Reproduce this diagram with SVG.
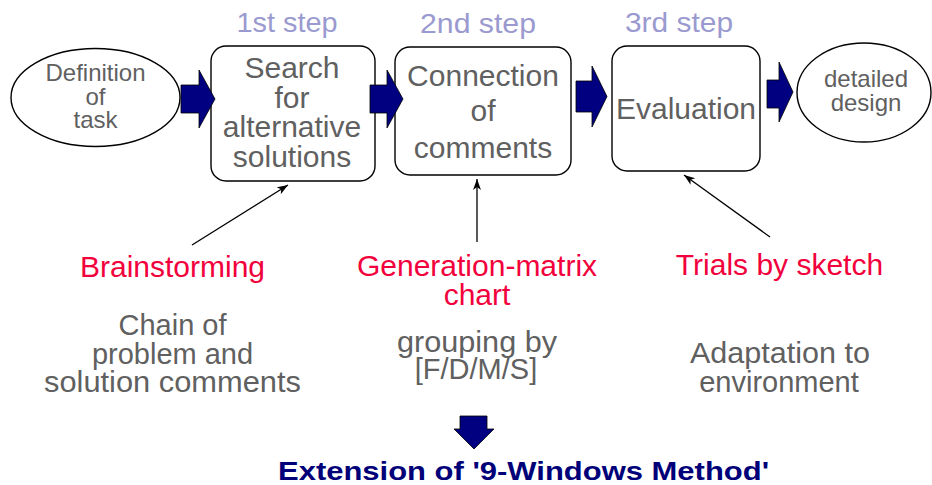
<svg xmlns="http://www.w3.org/2000/svg" width="932" height="485" viewBox="0 0 932 485">
<style>
text{font-family:"Liberation Sans",Arial,sans-serif;text-anchor:middle}
.node{fill:#fff;stroke:#000;stroke-width:1.4}
.nt{fill:#606060;font-size:30px}
.et{fill:#606060;font-size:24px}
.step{fill:#9a9ad0;font-size:28px}
.red{fill:#f2003c;font-size:30px}
.gray{fill:#606060;font-size:29px}
.blk{fill:#000080;stroke:#000;stroke-width:0.8}
.con{stroke:#000;stroke-width:1.3;fill:none;marker-end:url(#ah)}
</style>
<defs>
<marker id="ah" markerUnits="userSpaceOnUse" markerWidth="12" markerHeight="9" refX="11" refY="4" orient="auto">
<path d="M0,0 L11,4 L0,8 L3,4 z" fill="#000"/>
</marker>
</defs>
<rect width="932" height="485" fill="#fff"/>

<g id="step-labels">
<text class="step" x="287" y="32" textLength="101" lengthAdjust="spacingAndGlyphs">1st step</text>
<text class="step" x="478" y="33" textLength="116" lengthAdjust="spacingAndGlyphs">2nd step</text>
<text class="step" x="679" y="32" textLength="108" lengthAdjust="spacingAndGlyphs">3rd step</text>
</g>

<g id="definition">
<ellipse class="node" cx="95.5" cy="97.5" rx="84.5" ry="49"/>
<text class="et" x="95.5" y="81">Definition</text>
<text class="et" x="95.5" y="104.5">of</text>
<text class="et" x="95.5" y="128">task</text>
</g>

<g id="search">
<rect class="node" x="211" y="46" width="164" height="135" rx="15"/>
<text class="nt" x="292" y="78">Search</text>
<text class="nt" x="292" y="107.5">for</text>
<text class="nt" x="292" y="137">alternative</text>
<text class="nt" x="292" y="166.5">solutions</text>
</g>

<g id="connection">
<rect class="node" x="395" y="47" width="176" height="128" rx="15"/>
<text class="nt" x="483" y="86">Connection</text>
<text class="nt" x="483" y="121">of</text>
<text class="nt" x="483" y="158">comments</text>
</g>

<g id="evaluation">
<rect class="node" x="612" y="46" width="148" height="125" rx="15"/>
<text class="nt" x="686" y="119">Evaluation</text>
</g>

<g id="detailed">
<ellipse class="node" cx="864" cy="92.5" rx="67" ry="49.5"/>
<text class="et" x="866" y="87">detailed</text>
<text class="et" x="866" y="110.5">design</text>
</g>

<g id="block-arrows">
<polygon class="blk" points="181,85 199,85 199,70 215,99 199,128 199,113 181,113"/>
<polygon class="blk" points="370,85 387,85 387,70 403,99 387,128 387,113 370,113"/>
<polygon class="blk" points="576,81 592,81 592,66 607,96.5 592,127 592,112 576,112"/>
<polygon class="blk" points="767,80 779,80 779,62 793,92 779,122 779,108 767,108"/>
<polygon class="blk" points="460,416 487,416 487,429 494,429 474,449 454,429 460,429"/>
</g>

<g id="connectors">
<line class="con" x1="192" y1="245" x2="288" y2="185"/>
<line class="con" x1="477" y1="242" x2="477" y2="179"/>
<line class="con" x1="770" y1="237" x2="684" y2="175"/>
</g>

<g id="brainstorming">
<text class="red" x="172.5" y="277">Brainstorming</text>
<text class="gray" x="172.5" y="335">Chain of</text>
<text class="gray" x="172.5" y="363.5">problem and</text>
<text class="gray" x="172.5" y="392" textLength="257" lengthAdjust="spacingAndGlyphs">solution comments</text>
</g>

<g id="generation-matrix">
<text class="red" x="477" y="276">Generation-matrix</text>
<text class="red" x="477" y="305">chart</text>
<text class="gray" x="477" y="352" textLength="160" lengthAdjust="spacingAndGlyphs">grouping by</text>
<text class="gray" x="476" y="379">[F/D/M/S]</text>
</g>

<g id="trials">
<text class="red" x="779.5" y="275">Trials by sketch</text>
<text class="gray" x="780" y="363" textLength="180" lengthAdjust="spacingAndGlyphs">Adaptation to</text>
<text class="gray" x="779" y="392">environment</text>
</g>

<g id="extension">
<text x="523.5" y="480" font-size="26" font-weight="bold" fill="#000078" textLength="491" lengthAdjust="spacingAndGlyphs">Extension of '9-Windows Method'</text>
</g>
</svg>
